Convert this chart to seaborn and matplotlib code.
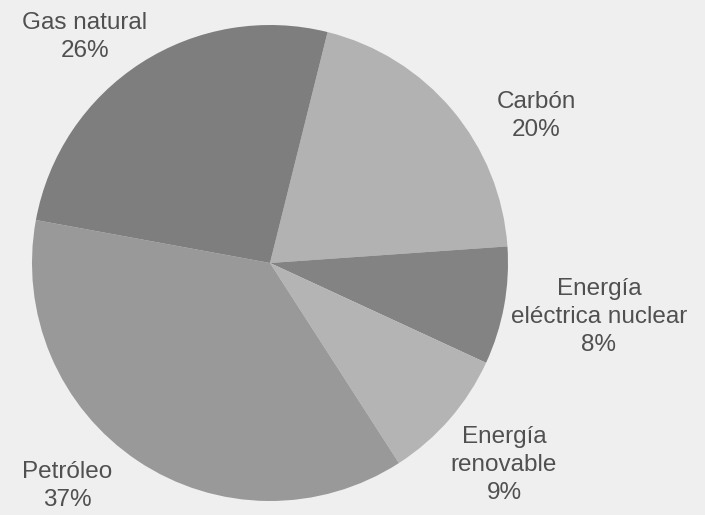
import matplotlib
matplotlib.use("Agg")
import matplotlib.pyplot as plt
import seaborn as sns

# Energy sources and their share of consumption (%)
sources = ["Carbón", "Energía\neléctrica nuclear", "Energía\nrenovable", "Petróleo", "Gas natural"]
shares = [20, 8, 9, 37, 26]
shades = ["#b2b2b2", "#838383", "#b4b4b4", "#999999", "#7e7e7e"]

# Label anchor points in figure pixels (x from left, y from top)
label_px = [(536, 116), (599, 317), (504, 465), (67, 486), (85, 37)]

sns.set_theme(style="white")
plt.rcParams["font.family"] = ["Liberation Sans", "DejaVu Sans"]

W, H = 705, 515
fig = plt.figure(figsize=(W / 100, H / 100), dpi=100)
fig.patch.set_facecolor("#efefef")
ax = fig.add_axes([0, 0, 1, 1])
ax.set_facecolor("#efefef")

ax.pie(shares, colors=shades, startangle=76, counterclock=False,
       radius=1.0, wedgeprops=dict(linewidth=0))

# Map the unit pie onto the canvas: centre at (270, 263) px, radius 238 px
cx, cy, r = 270, 263, 238
ax.set_xlim(-cx / r, (W - cx) / r)
ax.set_ylim(-(H - cy) / r, cy / r)
ax.set_aspect("auto")
ax.axis("off")

for name, pct, (px, py) in zip(sources, shares, label_px):
    ax.text(px / W, 1 - py / H, f"{name}\n{pct}%", transform=fig.transFigure,
            ha="center", va="center", fontsize=17.5, color="#505050",
            linespacing=1.33)

fig.savefig("out.png", dpi=100, facecolor=fig.get_facecolor())
